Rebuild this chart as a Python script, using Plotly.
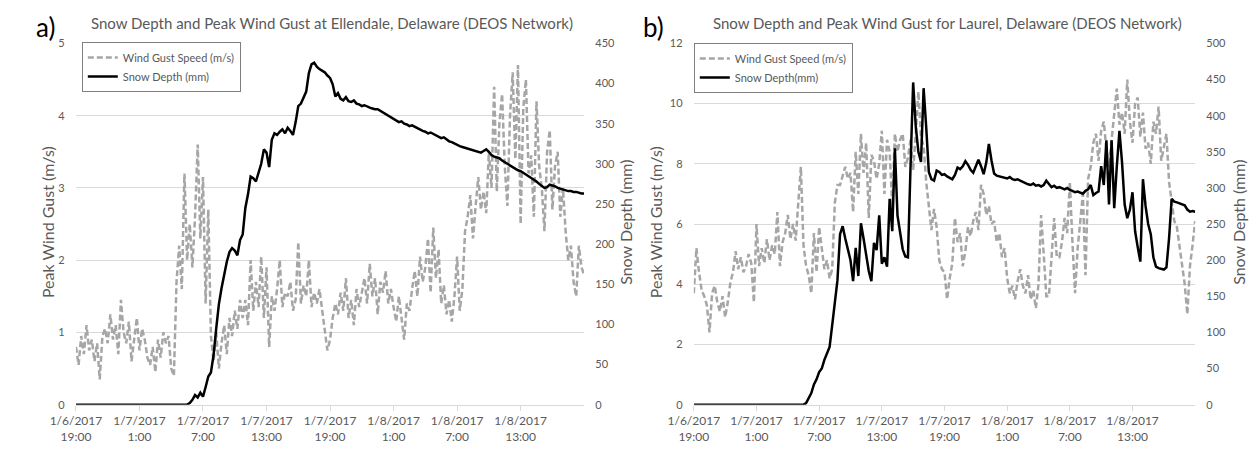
import pandas as pd
import plotly.graph_objects as go

# 15-minute observations, 1/6/2017 19:00 through 1/8/2017 19:00
start = "2017-01-06 19:00"
times = pd.date_range(start, periods=193, freq="15min")

# Ellendale peak wind gust (m/s)
ellendale_gust = [
    0.8, 0.55, 0.95, 0.7,  1.1, 0.75, 0.9, 0.6,  0.85, 0.35, 0.95, 1.05,
    0.85, 1.25, 0.9, 1.1,  0.7, 1.45, 1.0, 0.85,  1.15, 0.6, 0.9, 1.2,
    0.75, 1.05, 0.9, 0.65,  0.55, 0.8, 0.45, 0.9,  0.65, 1.0, 0.85, 0.95,
    0.5, 0.4, 1.7, 2.2,  1.6, 3.2, 2.0, 2.5,  1.9, 2.6, 3.6, 2.3,
    3.15, 1.4, 2.7, 0.95,  0.6, 1.0, 0.5, 0.85,  1.1, 0.7, 1.2, 0.95,
    1.3, 1.05, 1.45, 1.2,  1.45, 1.1, 2.0, 1.3,  1.7, 1.35, 2.05, 1.2,
    1.9, 0.8, 1.5, 1.3,  1.6, 2.0, 1.35, 1.55,  1.5, 1.7, 1.3, 1.45,
    2.25, 1.4, 1.65, 1.5,  2.0, 1.35, 1.55, 1.4,  1.6, 1.3, 1.05, 0.75,
    0.9, 1.2, 1.4, 1.25,  1.55, 1.3, 1.75, 1.2,  1.45, 1.1, 1.6, 1.35,
    1.55, 1.75, 1.4, 1.95,  1.5, 1.75, 1.25, 1.7,  1.55, 1.85, 1.4, 1.6,
    1.35, 1.15, 1.5, 1.2,  0.9, 1.4, 1.3, 1.6,  1.85, 1.5, 2.05, 1.7,
    1.9, 2.3, 1.55, 2.45,  1.75, 2.15, 1.4, 1.65,  1.25, 1.45, 1.15, 1.5,
    2.05, 1.3, 1.6, 2.4,  2.6, 2.9, 2.3, 2.75,  3.15, 2.7, 2.95, 2.65,
    3.5, 3.0, 4.4, 2.95,  3.9, 4.3, 3.3, 2.75,  4.0, 4.6, 3.4, 4.7,
    2.5, 4.1, 4.5, 3.2,  3.45, 2.6, 4.2, 3.3,  3.0, 2.4, 3.5, 3.8,
    2.7, 3.3, 3.5, 2.6,  3.0, 2.4, 2.0, 2.2,  1.7, 1.5, 2.2, 1.9,
    1.8,
]

# Ellendale snow depth (mm)
ellendale_snow = [
    0, 0, 0, 0,  0, 0, 0, 0,  0, 0, 0, 0,  0, 0, 0, 0,  0, 0, 0, 0,
    0, 0, 0, 0,  0, 0, 0, 0,  0, 0, 0, 0,  0, 0, 0, 0,  0, 0, 0, 0,
    0, 0, 0, 2,  6, 12, 9, 15,  10, 22, 35, 40,  62, 95, 125, 145,
    162, 178, 190, 195,  192, 186, 205, 212,  245, 262, 284, 282,
    278, 290, 300, 318,  314, 296, 330, 338,  336, 340, 343, 338,
    345, 341, 336, 352,  372, 375, 383, 390,  413, 424, 426, 421,
    418, 416, 414, 410,  407, 399, 384, 388,  381, 379, 383, 378,
    377, 379, 375, 374,  372, 373, 371, 370,  369, 368, 368, 366,
    363, 362, 360, 358,  356, 354, 352, 353,  350, 349, 347, 348,
    346, 344, 343, 341,  340, 338, 339, 337,  335, 334, 332, 333,
    330, 328, 327, 325,  324, 322, 321, 320,  319, 318, 317, 316,
    315, 314, 316, 318,  315, 311, 309, 308,  307, 304, 302, 300,
    298, 295, 294, 292,  291, 289, 287, 285,  283, 280, 278, 275,
    272, 270, 271, 274,  273, 272, 270, 269,  268, 267, 266, 266,
    265, 265, 264, 263,
    263,
]

# Laurel peak wind gust (m/s)
laurel_gust = [
    3.7, 5.2, 4.4, 3.8,  3.6, 3.3, 2.4, 3.7,  3.95, 3.4, 3.1, 3.6,
    2.9, 3.4, 4.05, 4.4,  5.1, 4.5, 4.9, 4.4,  4.6, 5.0, 4.7, 3.4,
    6.0, 4.6, 5.2, 4.7,  5.5, 4.8, 5.3, 5.0,  6.4, 4.6, 5.4, 5.7,
    6.3, 5.5, 6.0, 5.45,  6.7, 7.9, 5.3, 4.6,  4.3, 3.7, 5.7, 4.4,
    5.9, 5.1, 4.5, 4.8,  4.2, 4.5, 6.7, 7.3,  7.3, 7.6, 7.9, 7.5,
    7.7, 6.4, 8.4, 7.0,  9.0, 7.7, 8.7, 6.2,  8.3, 8.1, 7.5, 8.0,
    9.1, 7.0, 8.8, 8.4,  6.6, 9.0, 8.4, 8.8,  9.0, 7.9, 8.2, 8.8,
    7.8, 9.0, 10.4, 8.9,  8.6, 7.4, 6.7, 5.8,  6.5, 5.9, 4.8, 4.5,
    4.4, 3.5, 4.2, 4.7,  6.2, 5.4, 5.7, 4.6,  5.1, 5.9, 5.6, 6.1,
    6.4, 5.8, 7.3, 7.0,  6.3, 6.6, 6.0, 6.1,  5.4, 5.7, 4.9, 5.2,
    4.2, 3.7, 3.95, 3.5,  4.1, 4.5, 3.95, 3.7,  4.3, 3.5, 3.8, 3.2,
    4.0, 6.3, 5.0, 3.6,  3.6, 5.1, 6.2, 4.9,  4.9, 5.4, 6.2, 5.7,
    7.4, 5.4, 3.7, 5.2,  6.2, 7.0, 4.3, 7.5,  7.9, 8.7, 9.0, 8.1,
    9.1, 9.4, 8.5, 7.9,  8.8, 9.6, 10.5, 9.3,  9.7, 9.0, 10.8, 9.4,
    8.7, 10.0, 10.2, 8.9,  9.7, 8.5, 8.7, 8.0,  9.4, 9.0, 9.9, 8.1,
    8.6, 9.0, 7.4, 6.8,  6.1, 5.9, 5.3, 4.6,  4.0, 3.0, 4.6, 5.3,
    6.1,
]

# Laurel snow depth (mm)
laurel_snow = [
    0, 0, 0, 0,  0, 0, 0, 0,  0, 0, 0, 0,  0, 0, 0, 0,  0, 0, 0, 0,
    0, 0, 0, 0,  0, 0, 0, 0,  0, 0, 0, 0,  0, 0, 0, 0,  0, 0, 0, 0,
    0, 0, 0, 2,  10, 16, 28, 35,  45, 50, 62, 72,  80, 110, 145, 172,
    236, 247, 230, 214,  200, 171, 217, 178,  251, 230, 205, 185,
    171, 224, 214, 262,  195, 204, 191, 285,  240, 355, 262, 240,
    215, 205, 204, 330,  446, 385, 350, 336,  438, 384, 322, 312,
    310, 324, 322, 318,  319, 316, 314, 312,  318, 328, 326, 330,
    337, 332, 325, 321,  330, 339, 330, 319,  335, 361, 338, 320,
    317, 316, 315, 314,  313, 315, 312, 311,  312, 310, 308, 306,
    305, 304, 306, 303,  304, 302, 304, 310,  305, 301, 303, 300,
    301, 299, 298, 300,  297, 296, 294, 295,  293, 292, 296, 298,
    304, 290, 293, 295,  330, 304, 366, 277,  366, 272, 330, 379,
    335, 277, 258, 270,  294, 240, 218, 198,  312, 275, 250, 236,
    204, 191, 189, 188,  187, 190, 230, 285,  281, 280, 279, 277,
    276, 270, 267, 268,
    267,
]

tick_times = pd.date_range(start, periods=8, freq="6h")
tick_text = ["1/6/2017<br>19:00", "1/7/2017<br>1:00", "1/7/2017<br>7:00",
             "1/7/2017<br>13:00", "1/7/2017<br>19:00", "1/8/2017<br>1:00",
             "1/8/2017<br>7:00", "1/8/2017<br>13:00"]
x_range = [pd.Timestamp("2017-01-06 19:00"), pd.Timestamp("2017-01-08 19:00")]

FONT = "Lato"
TXT = "#595959"
GRID = "#d9d9d9"
GUST = "#a6a6a6"

W, H = 1250, 449

fig = go.Figure()

# Panel a: Ellendale
fig.add_trace(go.Scatter(x=times, y=ellendale_gust, xaxis="x", yaxis="y",
                         mode="lines", name="Wind Gust Speed (m/s)",
                         line=dict(color=GUST, width=2.5, dash="6px,3px"),
                         legend="legend"))
fig.add_trace(go.Scatter(x=times, y=ellendale_snow, xaxis="x", yaxis="y2",
                         mode="lines", name="Snow Depth (mm)",
                         line=dict(color="black", width=2.5),
                         legend="legend"))

# Panel b: Laurel
fig.add_trace(go.Scatter(x=times, y=laurel_gust, xaxis="x2", yaxis="y3",
                         mode="lines", name="Wind Gust Speed (m/s)",
                         line=dict(color=GUST, width=2.5, dash="6px,3px"),
                         legend="legend2"))
fig.add_trace(go.Scatter(x=times, y=laurel_snow, xaxis="x2", yaxis="y4",
                         mode="lines", name="Snow Depth(mm)",
                         line=dict(color="black", width=2.5),
                         legend="legend2"))

ydom = [(H - 409.5) / H, (H - 37.5) / H]
tickfont = dict(family=FONT, size=11, color=TXT)

xcommon = dict(type="date", range=x_range, tickmode="array", tickvals=tick_times,
               ticktext=tick_text, ticks="outside", ticklen=5, tickcolor=GRID,
               showgrid=False, showline=True, linecolor=GRID, linewidth=1,
               tickfont=dict(family=FONT, size=12, color=TXT), zeroline=False,
               fixedrange=True)

fig.update_layout(
    width=W, height=H,
    margin=dict(l=0, r=0, t=0, b=0),
    paper_bgcolor="white", plot_bgcolor="white",
    font=dict(family=FONT, color=TXT),
    xaxis=dict(domain=[51 / W, 570 / W], anchor="y", **xcommon),
    xaxis2=dict(domain=[682 / W, 1194 / W], anchor="y3", **xcommon),
    yaxis=dict(domain=ydom, range=[0, 5], dtick=1, showgrid=True, gridcolor=GRID,
               zeroline=False, showline=False, tickfont=tickfont,
               ticks="outside", ticklen=8, tickcolor="rgba(0,0,0,0)"),
    yaxis2=dict(overlaying="y", side="right", anchor="x", range=[0, 450], dtick=50,
                showgrid=False, zeroline=False, showline=False, tickfont=tickfont,
                ticks="outside", ticklen=8, tickcolor="rgba(0,0,0,0)"),
    yaxis3=dict(domain=ydom, anchor="x2", range=[0, 12], dtick=2, showgrid=True,
                gridcolor=GRID, zeroline=False, showline=False, tickfont=tickfont,
                ticks="outside", ticklen=8, tickcolor="rgba(0,0,0,0)"),
    yaxis4=dict(overlaying="y3", side="right", anchor="x2", range=[0, 500], dtick=50,
                showgrid=False, zeroline=False, showline=False, tickfont=tickfont,
                ticks="outside", ticklen=8, tickcolor="rgba(0,0,0,0)"),
    legend=dict(x=57 / W, y=1 - 36 / H, xanchor="left", yanchor="top",
                bgcolor="white", bordercolor="#7f7f7f", borderwidth=1,
                font=dict(family=FONT, size=11, color=TXT), traceorder="normal"),
    legend2=dict(x=682 / W, y=1 - 37 / H, xanchor="left", yanchor="top",
                 bgcolor="white", bordercolor="#7f7f7f", borderwidth=1,
                 font=dict(family=FONT, size=11, color=TXT), traceorder="normal"),
    showlegend=True,
)

annotations = [
    dict(text="Snow Depth and Peak Wind Gust at Ellendale, Delaware (DEOS Network)",
         x=313 / W, y=1 - 16 / H, font=dict(size=15, color=TXT)),
    dict(text="Snow Depth and Peak Wind Gust for Laurel, Delaware (DEOS Network)",
         x=941 / W, y=1 - 16 / H, font=dict(size=15, color=TXT)),
    dict(text="a)", x=20 / W, y=1 - 21 / H, font=dict(size=26, color="black")),
    dict(text="b)", x=641 / W, y=1 - 21 / H, font=dict(size=26, color="black")),
    dict(text="Peak Wind Gust (m/s)", x=22 / W, y=1 - 222 / H, textangle=-90,
         font=dict(size=16, color=TXT)),
    dict(text="Snow Depth (mm)", x=612 / W, y=1 - 222 / H, textangle=-90,
         font=dict(size=16, color=TXT)),
    dict(text="Peak Wind Gust (m/s)", x=643 / W, y=1 - 222 / H, textangle=-90,
         font=dict(size=16, color=TXT)),
    dict(text="Snow Depth (mm)", x=1238 / W, y=1 - 222 / H, textangle=-90,
         font=dict(size=16, color=TXT)),
]
for a in annotations:
    a.update(xref="paper", yref="paper", showarrow=False, xanchor="center",
             yanchor="middle")
    a["font"]["family"] = FONT
fig.update_layout(annotations=annotations)

fig.write_html("out.html")
